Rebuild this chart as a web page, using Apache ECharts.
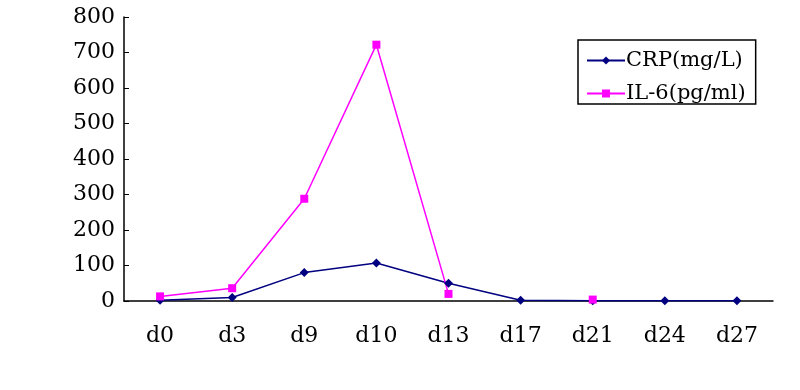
<!DOCTYPE html>
<html><head><meta charset="utf-8">
<script src="https://cdn.jsdelivr.net/npm/echarts@6/dist/echarts.min.js"></script>
<style>html,body{margin:0;padding:0;background:#fff}#c{width:800px;height:390px}</style>
</head><body><div id="c"></div>
<script>
const categories = ['d0','d3','d9','d10','d13','d17','d21','d24','d27'];
const crp = [2, 10, 80, 107, 50, 2, 1, 1, 1];
const il6 = [13, 36, 288, 722, 20, null, 4, null, null];
const yTicks = [0, 100, 200, 300, 400, 500, 600, 700, 800];
const font = '"DejaVu Serif", "Liberation Serif", serif';
const chart = echarts.init(document.getElementById('c'));
chart.setOption({
  animation: false,
  backgroundColor: '#fff',
  grid: {left: 124, right: 27, top: 17, bottom: 89, containLabel: false},
  legend: {
    orient: 'vertical', left: 578, top: 40,
    borderColor: '#000', borderWidth: 1.5, padding: [10, 10, 0, 8],
    itemWidth: 38, itemHeight: 10, itemGap: 12,
    textStyle: {fontFamily: font, fontSize: 21, color: '#000', padding: [0, 0, 0, -4]},
    data: ['CRP(mg/L)', 'IL-6(pg/ml)']
  },
  xAxis: {
    type: 'category', data: categories, boundaryGap: true,
    axisLine: {lineStyle: {color: '#000', width: 1.5}},
    axisTick: {inside: true, length: 5, lineStyle: {color: '#000'}},
    axisLabel: {fontFamily: font, fontSize: 22, color: '#000', margin: 24},
    splitLine: {show: false}
  },
  yAxis: {
    type: 'value', min: yTicks[0], max: yTicks[yTicks.length-1], interval: 100,
    axisLine: {show: true, lineStyle: {color: '#000', width: 1.5}},
    axisTick: {show: true, inside: true, length: 5, lineStyle: {color: '#000'}},
    axisLabel: {fontFamily: font, fontSize: 22, color: '#000', margin: 9},
    splitLine: {show: false}
  },
  series: [
    {name: 'CRP(mg/L)', type: 'line', data: crp, symbol: 'diamond', symbolSize: 9,
     showAllSymbol: true,
     lineStyle: {color: '#000080', width: 1.5}, itemStyle: {color: '#000080'}},
    {name: 'IL-6(pg/ml)', type: 'line', data: il6, symbol: 'rect', symbolSize: 8,
     showAllSymbol: true, connectNulls: false,
     lineStyle: {color: '#FF00FF', width: 1.5}, itemStyle: {color: '#FF00FF'}}
  ]
});
</script></body></html>
